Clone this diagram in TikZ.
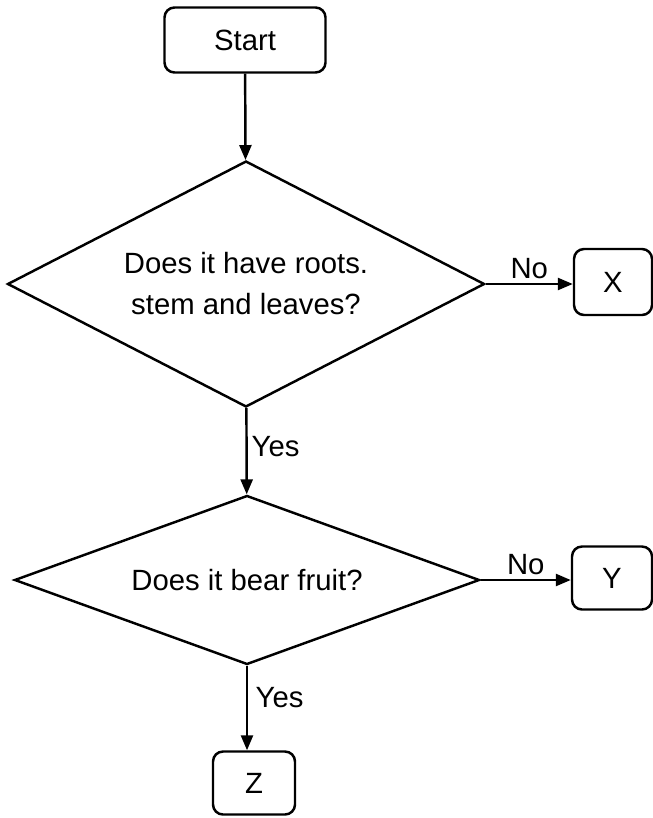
\documentclass[tikz,border=0pt]{standalone}
\usepackage{fontspec}
\setmainfont{Liberation Sans}
\usetikzlibrary{shapes.geometric, arrows.meta}

\begin{document}
\begin{tikzpicture}[x=0.03cm, y=-0.03cm, line width=2.1pt,
    box/.style={draw, rounded corners=0.3cm, inner sep=0pt},
    query/.style={draw, diamond, inner sep=0pt, align=center},
    flow/.style={-{Triangle[length=0.45cm, width=0.36cm]}},
    every node/.append style={font=\fontsize{25}{35}\selectfont}]
            \useasboundingbox (0,0) rectangle (653,818);

            \node[box, minimum width=4.83cm, minimum height=1.95cm] (start) at (245,40) {Start};
            \node[query, aspect=1.94, minimum width=14.31cm, minimum height=7.38cm] (q1) at (246,284) {Does it have roots.\\stem and leaves?};
            \node[query, aspect=2.74, minimum width=13.95cm, minimum height=5.07cm] (q2) at (247,580) {Does it bear fruit?};
            \node[box, minimum width=2.34cm, minimum height=1.98cm] (x) at (613,282) {X};
            \node[box, minimum width=2.4cm, minimum height=1.89cm] (y) at (612,578) {Y};
            \node[box, minimum width=2.46cm, minimum height=1.89cm] (z) at (254,783) {Z};

            \draw[flow] (start) -- (q1);
            \draw[flow] (q1.east) -- (q1.east -| x.west) node[midway, above] {No};
            \draw[flow] (q1) -- (q2) node[pos=0.45, right] {Yes};
            \draw[flow] (q2.east) -- (q2.east -| y.west) node[midway, above] {No};
            \draw[flow] (q2.south) -- (q2.south |- z.north) node[pos=0.375, right=3pt] {Yes};
          \end{tikzpicture}
\end{document}
